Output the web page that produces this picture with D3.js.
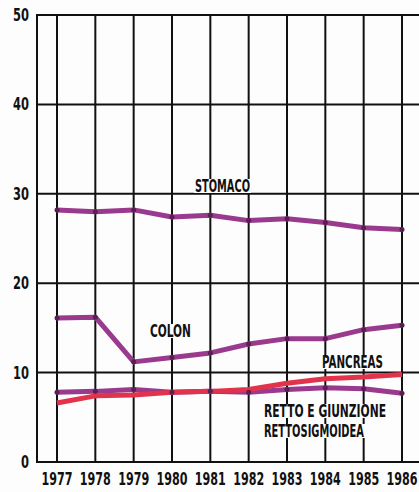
<!DOCTYPE html>
<html>
<head>
<meta charset="utf-8">
<script src="https://cdn.jsdelivr.net/npm/d3@7"></script>
<style>
  body { margin: 0; background: #fdfdfd; }
  text { font-family: "DejaVu Sans Condensed", "Liberation Sans Narrow", sans-serif; font-weight: bold; fill: #111; }
</style>
</head>
<body>
<script>
// data (rate per 100.000)
const years = [1977, 1978, 1979, 1980, 1981, 1982, 1983, 1984, 1985, 1986];
const stomaco = [28.2, 28.0, 28.2, 27.4, 27.6, 27.0, 27.2, 26.8, 26.2, 26.0];
const colon = [16.1, 16.2, 11.2, 11.7, 12.2, 13.2, 13.8, 13.8, 14.8, 15.3];
const retto = [7.8, 7.9, 8.1, 7.8, 7.9, 7.8, 8.1, 8.3, 8.2, 7.7];
const pancreas = [6.6, 7.4, 7.5, 7.8, 7.9, 8.1, 8.8, 9.3, 9.5, 9.8];
const yTicks = [0, 10, 20, 30, 40, 50];

const width = 419, height = 492;
const svg = d3.select('body').append('svg')
    .attr('width', width)
    .attr('height', height);

const x = d3.scaleLinear().domain([1977, 1986]).range([57, 402]);
const y = d3.scaleLinear().domain([0, 50]).range([462, 15]);
const left = 37;

// horizontal grid
svg.append('g')
  .selectAll('line')
  .data(yTicks)
  .join('line')
    .attr('x1', left).attr('x2', width)
    .attr('y1', d => y(d)).attr('y2', d => y(d))
    .attr('stroke', '#111')
    .attr('stroke-width', 2);

// vertical grid, plus left border
svg.append('g')
  .selectAll('line')
  .data(years)
  .join('line')
    .attr('x1', d => x(d)).attr('x2', d => x(d))
    .attr('y1', y(50)).attr('y2', y(0))
    .attr('stroke', '#111')
    .attr('stroke-width', 2);

svg.append('line')
    .attr('x1', left).attr('x2', left)
    .attr('y1', y(50) - 1).attr('y2', y(0) + 1)
    .attr('stroke', '#111')
    .attr('stroke-width', 2);

// y tick labels (squeezed to the narrow type of the original)
svg.append('g')
  .selectAll('text')
  .data(yTicks)
  .join('text')
    .attr('x', 29)
    .attr('y', d => y(d) + 6)
    .attr('text-anchor', 'end')
    .attr('font-size', 17)
    .attr('textLength', d => String(d).length * 8)
    .attr('lengthAdjust', 'spacingAndGlyphs')
    .text(d => d);

// x tick labels
svg.append('g')
  .selectAll('text')
  .data(years)
  .join('text')
    .attr('x', d => x(d))
    .attr('y', 485)
    .attr('text-anchor', 'middle')
    .attr('font-size', 17)
    .attr('textLength', 31)
    .attr('lengthAdjust', 'spacingAndGlyphs')
    .text(d => d);

const series = [
  {name: 'retto', values: retto, color: '#9a3a8e'},
  {name: 'pancreas', values: pancreas, color: '#e2334d'},
  {name: 'colon', values: colon, color: '#9a3a8e'},
  {name: 'stomaco', values: stomaco, color: '#9a3a8e'}
];

const line = d3.line()
    .x((d, i) => x(years[i]))
    .y(d => y(d));

svg.append('g')
  .selectAll('path')
  .data(series)
  .join('path')
    .attr('d', d => line(d.values))
    .attr('fill', 'none')
    .attr('stroke', d => d.color)
    .attr('stroke-width', 5)
    .attr('stroke-linejoin', 'round');

// little dark knots on the purple lines
svg.append('g')
  .selectAll('g')
  .data(series.filter(s => s.name !== 'pancreas'))
  .join('g')
  .selectAll('circle')
  .data(d => d.values)
  .join('circle')
    .attr('cx', (d, i) => x(years[i]))
    .attr('cy', d => y(d))
    .attr('r', 2.5)
    .attr('fill', '#5a1f50');

// labels, with a bit of paper behind them
const labels = [
  {text: 'STOMACO', x: 195, y: 192, w: 55},
  {text: 'COLON', x: 150, y: 337, w: 41},
  {text: 'PANCREAS', x: 322, y: 368, w: 61},
  {text: 'RETTO E GIUNZIONE', x: 264, y: 417, w: 122},
  {text: 'RETTOSIGMOIDEA', x: 264, y: 437, w: 100}
];

const lab = svg.append('g')
  .selectAll('g')
  .data(labels)
  .join('g');

lab.append('text')
    .attr('x', d => d.x)
    .attr('y', d => d.y)
    .attr('font-size', 17)
    .attr('textLength', d => d.w)
    .attr('lengthAdjust', 'spacingAndGlyphs')
    .text(d => d.text);

lab.each(function(d) {
  const g = d3.select(this);
  g.insert('rect', 'text')
    .attr('x', d.x - 1).attr('y', d.y - 13)
    .attr('width', d.w + 2).attr('height', 14)
    .attr('fill', '#fdfdfd');
});
</script>
</body>
</html>
